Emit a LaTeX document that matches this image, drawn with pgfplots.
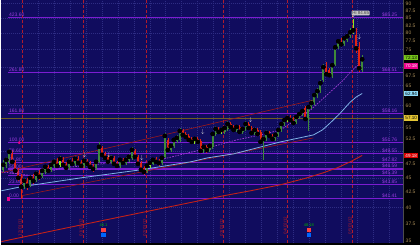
\documentclass[border=0pt]{standalone}
\usepackage{pgfplots}
\pgfplotsset{compat=1.18}
\usepackage{pgfplotstable}
\usepackage{fontspec}
\setmainfont{Liberation Sans}
\definecolor{bgc}{HTML}{100C5E}
\definecolor{fibc}{HTML}{7C1CD2}
\definecolor{fibt}{HTML}{9A3CE0}
\definecolor{upc}{HTML}{3F8A3A}
\definecolor{limec}{HTML}{8CE820}
\definecolor{dnc}{HTML}{E02414}
\definecolor{vlc}{HTML}{B01C2C}
\definecolor{ma50}{HTML}{7FB2E6}
\definecolor{ma20}{HTML}{A43CD8}
\definecolor{ma200}{HTML}{C42018}
\definecolor{chc}{HTML}{A01818}
\definecolor{tickc}{HTML}{A88C58}
\definecolor{goldl}{HTML}{6E5C22}
\definecolor{gridc}{HTML}{2E2C84}

\pgfplotstableread{
i o h l c
0 46.45 48.33 46.08 47.38
1 47.19 48.91 46.82 48.33
2 47.95 50.48 47.57 49.88
7 43.59 44.99 43.07 44.46
9 43.76 45.53 43.42 44.99
11 44.64 46.27 44.29 45.72
13 45.35 46.82 44.99 46.27
14 46.08 47.38 45.72 47.00
16 46.45 47.95 46.08 47.38
17 47.19 48.52 46.82 47.95
22 46.82 48.52 46.45 47.95
24 47.57 49.10 47.19 48.52
27 47.19 48.71 46.82 48.14
31 46.82 48.33 46.45 47.95
32 47.95 51.91 47.76 50.89
36 47.95 49.30 47.57 48.71
39 47.19 48.71 46.82 48.33
41 47.76 48.91 47.38 48.33
42 48.33 49.49 47.95 48.91
43 48.71 50.89 48.33 50.28
48 46.27 47.57 45.90 47.19
50 47.57 48.71 47.38 48.33
53 47.76 49.10 47.38 48.71
54 48.91 53.79 48.71 53.16
56 50.28 51.50 49.88 51.09
57 51.09 52.74 50.68 52.32
58 52.11 53.37 51.70 52.74
59 52.32 54.87 51.91 54.22
67 50.08 51.29 49.68 50.89
69 50.28 51.50 49.88 51.09
70 50.89 54.01 50.48 53.58
71 53.58 55.31 53.16 54.66
74 54.01 55.31 53.58 54.87
75 54.66 56.42 54.22 55.75
78 54.44 55.53 54.01 55.09
80 54.01 55.09 53.58 54.66
81 54.66 56.42 54.22 55.75
84 53.79 54.87 53.37 54.44
87 51.91 53.16 48.33 52.53
88 52.53 54.44 52.11 53.79
91 52.53 53.79 52.11 53.37
92 53.37 54.87 52.95 54.44
93 54.44 56.19 54.01 55.75
94 55.75 57.09 55.31 56.64
98 56.19 57.78 55.75 57.32
99 57.32 58.46 56.87 58.00
100 58.00 59.17 57.55 58.70
102 56.87 60.11 54.22 59.64
103 59.64 61.32 59.17 60.59
104 60.59 63.05 60.11 62.55
105 62.30 64.31 61.81 63.55
106 63.55 66.38 63.05 65.59
107 66.38 70.74 65.85 69.90
110 67.44 71.02 66.91 70.45
111 70.45 76.27 70.18 75.67
112 75.67 78.11 75.07 77.49
114 76.57 79.05 75.97 78.42
115 77.80 79.68 77.18 79.05
116 79.05 81.60 78.42 80.31
120 69.07 73.31 68.52 72.13
}\upT

\pgfplotstableread{
i o h l c
19 47.38 49.10 47.00 48.52
49 47.19 48.14 46.82 47.76
64 51.91 52.95 51.50 52.53
73 54.01 54.87 53.58 54.44
95 56.64 57.55 56.19 57.09
117 80.31 84.65 79.68 80.95
}\limeT

\pgfplotstableread{
i o h l c
3 49.49 50.28 47.57 47.95
4 47.76 48.33 45.90 46.27
5 46.45 46.82 44.46 44.99
6 45.17 45.72 41.41 43.42
8 44.64 44.99 42.90 43.59
10 45.17 45.72 43.94 44.46
12 45.90 46.45 44.64 45.17
15 47.00 47.38 45.90 46.27
18 48.14 48.71 46.82 47.19
20 48.33 48.91 47.00 47.38
21 47.57 47.95 46.45 46.82
23 48.14 48.71 47.19 47.57
25 48.52 49.10 47.38 47.76
26 47.95 48.33 46.82 47.19
28 48.14 48.52 47.19 47.57
29 47.76 48.14 46.63 47.00
30 47.19 47.57 46.08 46.63
33 50.68 51.09 48.91 49.30
34 49.49 49.88 48.33 48.71
35 48.91 49.30 47.57 47.95
37 48.71 49.10 47.19 47.57
38 47.76 48.14 46.82 47.19
40 48.33 48.71 47.38 47.76
44 50.08 50.48 48.52 48.91
45 48.91 49.30 47.19 47.57
46 47.76 48.14 46.08 46.45
47 46.82 47.19 45.53 46.08
51 48.52 48.91 47.57 47.95
52 48.14 48.52 47.19 47.76
55 52.32 52.74 49.88 50.28
60 54.22 54.66 52.95 53.37
61 53.58 54.01 52.53 52.95
62 53.16 53.58 51.91 52.32
63 52.53 52.95 51.50 51.91
65 52.53 52.95 51.50 51.91
66 52.11 52.53 49.68 50.08
68 50.89 51.29 49.68 50.28
72 54.66 55.09 53.58 54.01
76 55.75 56.19 54.66 55.09
77 55.09 55.53 54.01 54.44
79 55.09 55.53 53.58 54.01
82 55.75 56.19 54.44 54.87
83 54.87 55.31 53.37 53.79
85 54.44 54.87 53.16 53.58
86 54.01 54.44 51.50 51.91
89 53.79 54.22 52.74 53.16
90 53.16 53.58 52.11 52.53
96 57.32 57.78 56.19 56.64
97 56.87 57.32 55.53 55.97
101 59.40 59.87 56.42 56.87
108 69.90 71.30 67.44 67.98
109 69.07 69.62 67.18 67.71
113 77.49 78.42 75.97 76.57
118 79.36 81.60 73.89 75.37
119 75.67 77.18 68.52 69.62
}\dnT

\begin{document}
\begin{tikzpicture}[font=\fontsize{5}{6}\selectfont]
\fill[black] (0,0) rectangle (420pt,245pt);
\begin{axis}[
  at={(0,2pt)}, anchor=south west,
  width=403pt, height=243pt, scale only axis,
  xmin=-0.667, xmax=133.667,
  ymode=log, ymin=34.76, ymax=91.19,
  axis background/.style={fill=bgc},
  axis line style={draw=none},
  clip=false,
  xtick={11.67,17,...,133}, xticklabels={},
  xmajorgrids,
  ytick={35,37.5,40,42.5,45,47.5,52.5,55,60,65,67.5,75,77.5,80,82.5,85,87.5,90},
  yticklabels={35,37.5,40,42.5,45,47.5,52.5,55,60,65,67.5,75,77.5,80,82.5,85,87.5,90},
  yticklabel pos=right,
  yticklabel style={font=\fontsize{5}{6}\selectfont, text=tickc, anchor=west, inner sep=0pt, xshift=2.5pt},
  extra y ticks={40,45,50,55,60,65,70,75,80,85,90},
  extra y tick labels={},
  extra y tick style={grid=major},
  tick style={draw=none},
  grid style={gridc, dash pattern=on 0.5pt off 1.5pt, line width=0.5pt},
]
% gold level
\addplot[goldl, line width=0.8pt, forget plot] coordinates {(-0.667,57.10) (133.667,57.10)};
% fibonacci levels
\pgfplotsinvokeforeach{85.25,68.51,58.16,51.76,49.55,47.81,46.59,45.36,43.85,41.41}{
  \addplot[fibc, line width=1.2pt, forget plot] coordinates {(1.67,#1) (133.667,#1)};
}
% vertical month lines
\pgfplotsinvokeforeach{6.33,26.67,48,73.67,95,116.67}{
  \addplot[vlc, line width=0.8pt, dash pattern=on 3pt off 2pt, forget plot] coordinates {(#1,34.76) (#1,91.19)};
}
% trend channel
\addplot[chc, line width=0.6pt] coordinates {(-0.667,45.90) (103.67,61.32)};
\addplot[chc, line width=0.6pt] coordinates {(6,41.89) (103.67,52.74)};
% 200-day MA
\addplot[ma200, line width=0.9pt] coordinates {(-0.667,34.90) (20,36.75) (46,39.16) (73.67,41.89) (82.67,42.73) (92.67,43.76) (101,44.90) (107,45.90) (111.67,46.82) (116,47.95) (120,49.18)};
% 50-day MA
\addplot[ma50, line width=0.8pt] coordinates {(-0.667,42.73) (6,43.42) (26,44.99) (46,46.45) (62.7,47.95) (68.3,48.71) (77,49.49) (92.7,51.91) (103.7,53.37) (106.7,54.44) (109.3,55.97) (112.7,58.23) (116,60.83) (118,62.06) (120,62.94)};
% 20-day MA
\addplot[ma20, line width=0.7pt, dash pattern=on 1.6pt off 1.2pt] coordinates {(-0.667,46.08) (10,45.35) (20,46.82) (33,47.57) (50,47.95) (55,48.71) (66,50.28) (78,52.32) (86,53.37) (92.7,54.44) (102.7,58.93) (113.7,66.38) (116,68.52) (118.3,70.32) (120,70.18)};
% wicks
\addplot[only marks, mark=none, error bars/.cd, y dir=both, y explicit, error mark=none, error bar style={line width=0.5pt, draw=upc}]
  table[x=i, y=c, y error plus expr=\thisrow{h}-\thisrow{c}, y error minus expr=\thisrow{c}-\thisrow{l}] {\upT};
\addplot[only marks, mark=none, error bars/.cd, y dir=both, y explicit, error mark=none, error bar style={line width=0.5pt, draw=limec}]
  table[x=i, y=c, y error plus expr=\thisrow{h}-\thisrow{c}, y error minus expr=\thisrow{c}-\thisrow{l}] {\limeT};
\addplot[only marks, mark=none, error bars/.cd, y dir=both, y explicit, error mark=none, error bar style={line width=0.5pt, draw=dnc}]
  table[x=i, y=c, y error plus expr=\thisrow{h}-\thisrow{c}, y error minus expr=\thisrow{c}-\thisrow{l}] {\dnT};
% bodies
\addplot[only marks, mark=none, error bars/.cd, y dir=minus, y explicit, error mark=none, error bar style={line width=2pt, draw=upc}]
  table[x=i, y=c, y error minus expr=\thisrow{c}-\thisrow{o}] {\upT};
\addplot[only marks, mark=none, error bars/.cd, y dir=minus, y explicit, error mark=none, error bar style={line width=2pt, draw=limec}]
  table[x=i, y=c, y error minus expr=\thisrow{c}-\thisrow{o}] {\limeT};
\addplot[only marks, mark=none, error bars/.cd, y dir=plus, y explicit, error mark=none, error bar style={line width=2pt, draw=dnc}]
  table[x=i, y=c, y error plus expr=\thisrow{o}-\thisrow{c}] {\dnT};
% signal arrows
\addplot[only marks, mark=text, text mark={\fontsize{6}{6}\selectfont\textcolor{black!10}{$\downarrow$}}]
  coordinates {(27.17,49.30) (35.33,49.30) (46.33,48.71) (66.67,54.01) (82.67,56.64) (119,78.73)};
% fib anchors
\addplot[only marks, mark=square*, mark size=1.2pt, color=magenta] coordinates {(1.67,41.41)};
\addplot[only marks, mark=*, mark size=1.3pt, color=magenta] coordinates {(5.33,51.76)};
% right border
\draw[black!70] (rel axis cs:1,0) -- (rel axis cs:1,1);
% fib labels (left: percent, right: price)
\node[text=fibt, anchor=south west, inner sep=0.6pt] at (axis cs:1.67,85.25) {423.60};
\node[text=fibt, anchor=south west, inner sep=0.6pt] at (axis cs:1.67,68.51) {261.80};
\node[text=fibt, anchor=south west, inner sep=0.6pt] at (axis cs:1.67,58.16) {161.80};
\node[text=fibt, anchor=south west, inner sep=0.6pt] at (axis cs:1.67,51.76) {100.00};
\node[text=fibt, anchor=south west, inner sep=0.6pt] at (axis cs:1.67,49.55) {78.60};
\node[text=fibt, anchor=south west, inner sep=0.6pt] at (axis cs:1.67,47.81) {61.80};
\node[text=fibt, anchor=south west, inner sep=0.6pt] at (axis cs:1.67,46.59) {50.00};
\node[text=fibt, anchor=south west, inner sep=0.6pt] at (axis cs:1.67,45.36) {38.20};
\node[text=fibt, anchor=south west, inner sep=0.6pt] at (axis cs:1.67,43.85) {23.60};
\node[text=fibt, anchor=south west, inner sep=0.6pt] at (axis cs:1.67,41.41) {0.00};
\node[text=fibt, anchor=south east, inner sep=0.6pt] at (axis cs:132,85.25) {\$85.25};
\node[text=fibt, anchor=south east, inner sep=0.6pt] at (axis cs:132,68.51) {\$68.51};
\node[text=fibt, anchor=south east, inner sep=0.6pt] at (axis cs:132,58.16) {\$58.16};
\node[text=fibt, anchor=south east, inner sep=0.6pt] at (axis cs:132,51.76) {\$51.76};
\node[text=fibt, anchor=south east, inner sep=0.6pt] at (axis cs:132,49.55) {\$49.55};
\node[text=fibt, anchor=south east, inner sep=0.6pt] at (axis cs:132,47.81) {\$47.82};
\node[text=fibt, anchor=south east, inner sep=0.6pt] at (axis cs:132,46.59) {\$46.59};
\node[text=fibt, anchor=south east, inner sep=0.6pt] at (axis cs:132,45.36) {\$45.39};
\node[text=fibt, anchor=south east, inner sep=0.6pt] at (axis cs:132,43.85) {\$43.85};
\node[text=fibt, anchor=south east, inner sep=0.6pt] at (axis cs:132,41.41) {\$41.41};
% date labels
\node[rotate=90, anchor=south west, text=vlc, inner sep=0.3pt, font=\fontsize{4.5}{5}\selectfont] at (axis cs:6.33,35.6) {12/01/11};
\node[rotate=90, anchor=south west, text=vlc, inner sep=0.3pt, font=\fontsize{4.5}{5}\selectfont] at (axis cs:26.67,35.6) {01/03/12};
\node[rotate=90, anchor=south west, text=vlc, inner sep=0.3pt, font=\fontsize{4.5}{5}\selectfont] at (axis cs:48,35.6) {02/01/12};
\node[rotate=90, anchor=south west, text=vlc, inner sep=0.3pt, font=\fontsize{4.5}{5}\selectfont] at (axis cs:73.67,35.6) {03/01/12};
\node[rotate=90, anchor=south west, text=vlc, inner sep=0.3pt, font=\fontsize{4.5}{5}\selectfont] at (axis cs:95,35.9) {04/02/12};
\node[rotate=90, anchor=south west, text=vlc, inner sep=0.3pt, font=\fontsize{4.5}{5}\selectfont] at (axis cs:116.67,35.9) {05/01/12};
% earnings markers
\node[text=green!70!black, inner sep=0pt, font=\fontsize{4}{4}\selectfont] at (axis cs:33.5,37.25) {46.1};
\node[fill=red!75!white, minimum width=4.5pt, minimum height=4pt, inner sep=0pt] at (axis cs:33.5,36.55) {};
\node[fill=blue!60!cyan, minimum width=4.5pt, minimum height=4pt, inner sep=0pt] at (axis cs:33.5,35.8) {};
\node[text=green!70!black, inner sep=0pt, font=\fontsize{4}{4}\selectfont] at (axis cs:102.17,37.25) {48.18};
\node[fill=red!75!white, minimum width=4.5pt, minimum height=4pt, inner sep=0pt] at (axis cs:102.17,36.55) {};
\node[fill=blue!60!cyan, minimum width=4.5pt, minimum height=4pt, inner sep=0pt] at (axis cs:102.17,35.8) {};
% high callout
\node[fill=black!22, text=black!75, rounded corners=0.8pt, inner sep=0.7pt, font=\fontsize{4.5}{5}\selectfont] (hi) at (axis cs:119.5,86.7) {Hi 84.65};
\fill[black!22] ([xshift=0.5pt]hi.south west) -- ([xshift=3.5pt]hi.south west) -- ([xshift=1.2pt,yshift=-1.5pt]hi.south west) -- cycle;
% value boxes on the price scale
\node[fill=limec!85!black, text=black, minimum width=14pt, minimum height=5.6pt, inner sep=0pt, anchor=west, font=\fontsize{4.6}{5}\selectfont] at ([xshift=1pt]axis cs:133.667,72.6) {72.13};
\node[fill=magenta, text=white, minimum width=14pt, minimum height=5.6pt, inner sep=0pt, anchor=west, font=\fontsize{4.6}{5}\selectfont] at ([xshift=1pt]axis cs:133.667,70.18) {70.18};
\node[fill=cyan!45!white, text=black, minimum width=14pt, minimum height=5.6pt, inner sep=0pt, anchor=west, font=\fontsize{4.6}{5}\selectfont] at ([xshift=1pt]axis cs:133.667,62.94) {62.94};
\node[fill=yellow!55!brown, text=black, minimum width=14pt, minimum height=5.6pt, inner sep=0pt, anchor=west, font=\fontsize{4.6}{5}\selectfont] at ([xshift=1pt]axis cs:133.667,57.10) {57.10};
\node[fill=red!85!black, text=white, minimum width=14pt, minimum height=5.6pt, inner sep=0pt, anchor=west, font=\fontsize{4.6}{5}\selectfont] at ([xshift=1pt]axis cs:133.667,49.18) {49.18};
\end{axis}
\end{tikzpicture}
\end{document}
